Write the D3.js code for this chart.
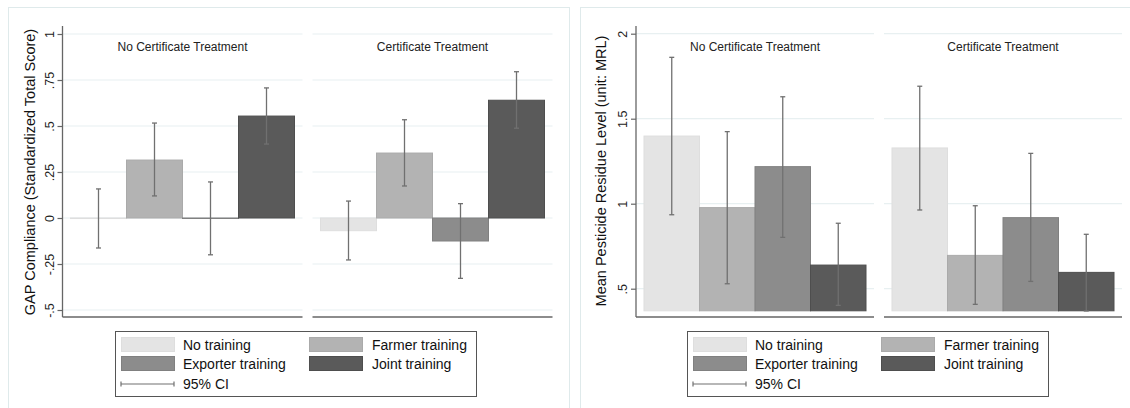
<!DOCTYPE html>
<html>
<head>
<meta charset="utf-8">
<script src="https://cdn.jsdelivr.net/npm/d3@7"></script>
<style>
  html, body { margin: 0; padding: 0; background: #fff; }
  svg { display: block; font-family: "Liberation Sans", Arial, sans-serif; }
</style>
</head>
<body>
<svg id="chart" width="1130" height="408"></svg>
<script>
// ---- data ----
const trainings = ["No training", "Farmer training", "Exporter training", "Joint training"];
const treatments = ["No Certificate Treatment", "Certificate Treatment"];

// GAP compliance (standardized total score): mean and 95% CI per treatment x training
const gapMean = [[-0.003, 0.315, -0.002, 0.554], [-0.069, 0.353, -0.125, 0.640]];
const gapLow  = [[-0.163, 0.120, -0.200, 0.402], [-0.228, 0.174, -0.328, 0.488]];
const gapHigh = [[ 0.158, 0.516,  0.196, 0.707], [ 0.092, 0.534,  0.078, 0.795]];
const gapTicks = [-0.5, -0.25, 0, 0.25, 0.5, 0.75, 1];
const gapTickLabels = ["-.5", "-.25", "0", ".25", ".5", ".75", "1"];

// Mean pesticide residue level (unit: MRL): mean and 95% CI
const mrlMean = [[1.398, 0.977, 1.218, 0.639], [1.328, 0.696, 0.918, 0.596]];
const mrlLow  = [[0.935, 0.529, 0.802, 0.402], [0.963, 0.408, 0.543, 0.369]];
const mrlHigh = [[1.861, 1.424, 1.629, 0.885], [1.691, 0.988, 1.296, 0.820]];
const mrlTicks = [0.5, 1, 1.5, 2];
const mrlTickLabels = [".5", "1", "1.5", "2"];

const barFill   = ["#e4e4e4", "#b3b3b3", "#8c8c8c", "#5a5a5a"];
const barStroke = ["#dedede", "#aaaaaa", "#808080", "#4e4e4e"];

const svg = d3.select("#chart");

function drawPanel(cfg) {
  const g = svg.append("g");

  // outer graph region frame
  g.append("rect")
    .attr("x", cfg.frameX + 0.5).attr("y", 7.5)
    .attr("width", cfg.frameW).attr("height", 420)
    .attr("fill", "none").attr("stroke", "#dfeaeb").attr("stroke-width", 1);

  const y = d3.scaleLinear().domain(cfg.yDomain).range(cfg.yRange);

  // subpanels (one per certificate treatment)
  const sub = d3.scaleBand().domain(treatments)
    .range([cfg.axisX, cfg.axisX + 2 * cfg.subW + cfg.subGap])
    .paddingInner(cfg.subGap / (cfg.subW + cfg.subGap));

  treatments.forEach((t, ti) => {
    const x0 = sub(t), w = sub.bandwidth();
    const x = d3.scaleBand().domain(trainings).range([x0 + 8, x0 + w - 8]).padding(0);
    const sg = g.append("g");

    // horizontal grid
    sg.selectAll("line.grid").data(cfg.ticks).join("line")
      .attr("x1", x0).attr("x2", x0 + w)
      .attr("y1", d => y(d)).attr("y2", d => y(d))
      .attr("stroke", "#e8f0f1").attr("stroke-width", 1.2);

    // bars
    const base = cfg.base;
    sg.selectAll("rect.bar").data(trainings).join("rect")
      .attr("x", d => x(d))
      .attr("width", x.bandwidth())
      .attr("y", (d, i) => Math.min(y(cfg.mean[ti][i]), y(base)))
      .attr("height", (d, i) => Math.max(Math.abs(y(cfg.mean[ti][i]) - y(base)), 0.5))
      .attr("fill", (d, i) => barFill[i])
      .attr("stroke", (d, i) => barStroke[i])
      .attr("stroke-width", 1);

    // 95% CI
    const ci = sg.selectAll("g.ci").data(trainings).join("g");
    const cx = d => x(d) + x.bandwidth() / 2;
    ci.append("line")
      .attr("x1", cx).attr("x2", cx)
      .attr("y1", (d, i) => y(cfg.low[ti][i])).attr("y2", (d, i) => y(cfg.high[ti][i]))
      .attr("stroke", "#707070").attr("stroke-width", 1.3);
    ["low", "high"].forEach(k => {
      ci.append("line")
        .attr("x1", d => cx(d) - 2.5).attr("x2", d => cx(d) + 2.5)
        .attr("y1", (d, i) => y(cfg[k][ti][i])).attr("y2", (d, i) => y(cfg[k][ti][i]))
        .attr("stroke", "#707070").attr("stroke-width", 1.3);
    });

    // bottom axis line
    sg.append("line")
      .attr("x1", x0).attr("x2", x0 + w)
      .attr("y1", cfg.plotBottom).attr("y2", cfg.plotBottom)
      .attr("stroke", "#666").attr("stroke-width", 1.3);

    // subpanel title
    sg.append("text")
      .attr("x", x0 + w / 2).attr("y", 51)
      .attr("text-anchor", "middle")
      .attr("font-size", 12).attr("fill", "#222")
      .text(t);
  });

  // y axis
  const axis = d3.axisLeft(y).tickValues(cfg.ticks).tickSize(5).tickPadding(9)
    .tickFormat((d, i) => cfg.tickLabels[i]);
  const ag = g.append("g").attr("transform", `translate(${cfg.axisX},0)`).call(axis);
  ag.select(".domain").remove();
  ag.append("line").attr("x1", 0).attr("x2", 0)
    .attr("y1", 26).attr("y2", cfg.plotBottom)
    .attr("stroke", "#666").attr("stroke-width", 1.3);
  ag.selectAll(".tick line").attr("stroke", "#666").attr("stroke-width", 1.2);
  ag.selectAll(".tick text")
    .attr("font-size", 12.5).attr("fill", "#222")
    .attr("font-family", "Liberation Sans, Arial, sans-serif")
    .attr("x", -13).attr("dy", null)
    .attr("text-anchor", "middle")
    .attr("dominant-baseline", "central")
    .attr("transform", "rotate(-90, -13, 0)");

  // y axis title
  g.append("text")
    .attr("transform", `translate(${cfg.titleX},${cfg.titleY}) rotate(-90)`)
    .attr("text-anchor", "middle").attr("dominant-baseline", "central")
    .attr("font-size", 14.5).attr("fill", "#111")
    .text(cfg.yTitle);

  // legend
  const lx = cfg.legendX, ly = 331;
  const lg = g.append("g");
  lg.append("rect").attr("x", lx + 0.5).attr("y", ly + 0.5)
    .attr("width", 361).attr("height", 65)
    .attr("fill", "#fff").attr("stroke", "#555").attr("stroke-width", 1);
  const items = trainings.map((t, i) => ({
    t, i, col: i % 2, row: Math.floor(i / 2)
  }));
  const colSw = [6, 194], colTx = [68, 257];
  items.forEach(it => {
    const sy = ly + 6 + it.row * 19;
    lg.append("rect")
      .attr("x", lx + colSw[it.col] + 0.5).attr("y", sy + 0.5)
      .attr("width", 53).attr("height", 14)
      .attr("fill", barFill[it.i]).attr("stroke", barStroke[it.i]);
    lg.append("text")
      .attr("x", lx + colTx[it.col]).attr("y", sy + 7.5)
      .attr("dominant-baseline", "central")
      .attr("font-size", 14).attr("fill", "#111")
      .text(it.t);
  });
  const cy = ly + 53;
  lg.append("line").attr("x1", lx + 6).attr("x2", lx + 59)
    .attr("y1", cy).attr("y2", cy).attr("stroke", "#707070").attr("stroke-width", 1.2);
  [lx + 6, lx + 59].forEach(xx => lg.append("line")
    .attr("x1", xx).attr("x2", xx).attr("y1", cy - 2.5).attr("y2", cy + 2.5)
    .attr("stroke", "#707070").attr("stroke-width", 1.2));
  lg.append("text").attr("x", lx + 68).attr("y", cy)
    .attr("dominant-baseline", "central")
    .attr("font-size", 14).attr("fill", "#111").text("95% CI");
}

drawPanel({
  frameX: 8, frameW: 561,
  axisX: 62.5, subW: 240, subGap: 10,
  yDomain: [-0.5, 1], yRange: [310, 34], plotBottom: 317,
  base: 0,
  ticks: gapTicks, tickLabels: gapTickLabels,
  mean: gapMean, low: gapLow, high: gapHigh,
  yTitle: "GAP Compliance (Standardized Total Score)",
  titleX: 30, titleY: 172,
  legendX: 115
});

drawPanel({
  frameX: 580, frameW: 560,
  axisX: 636, subW: 238, subGap: 10,
  yDomain: [0.5, 2], yRange: [288.7, 33.7], plotBottom: 317,
  base: 0.37,
  ticks: mrlTicks, tickLabels: mrlTickLabels,
  mean: mrlMean, low: mrlLow, high: mrlHigh,
  yTitle: "Mean Pesticide Residue Level (unit: MRL)",
  titleX: 601, titleY: 171,
  legendX: 687
});
</script>
</body>
</html>
